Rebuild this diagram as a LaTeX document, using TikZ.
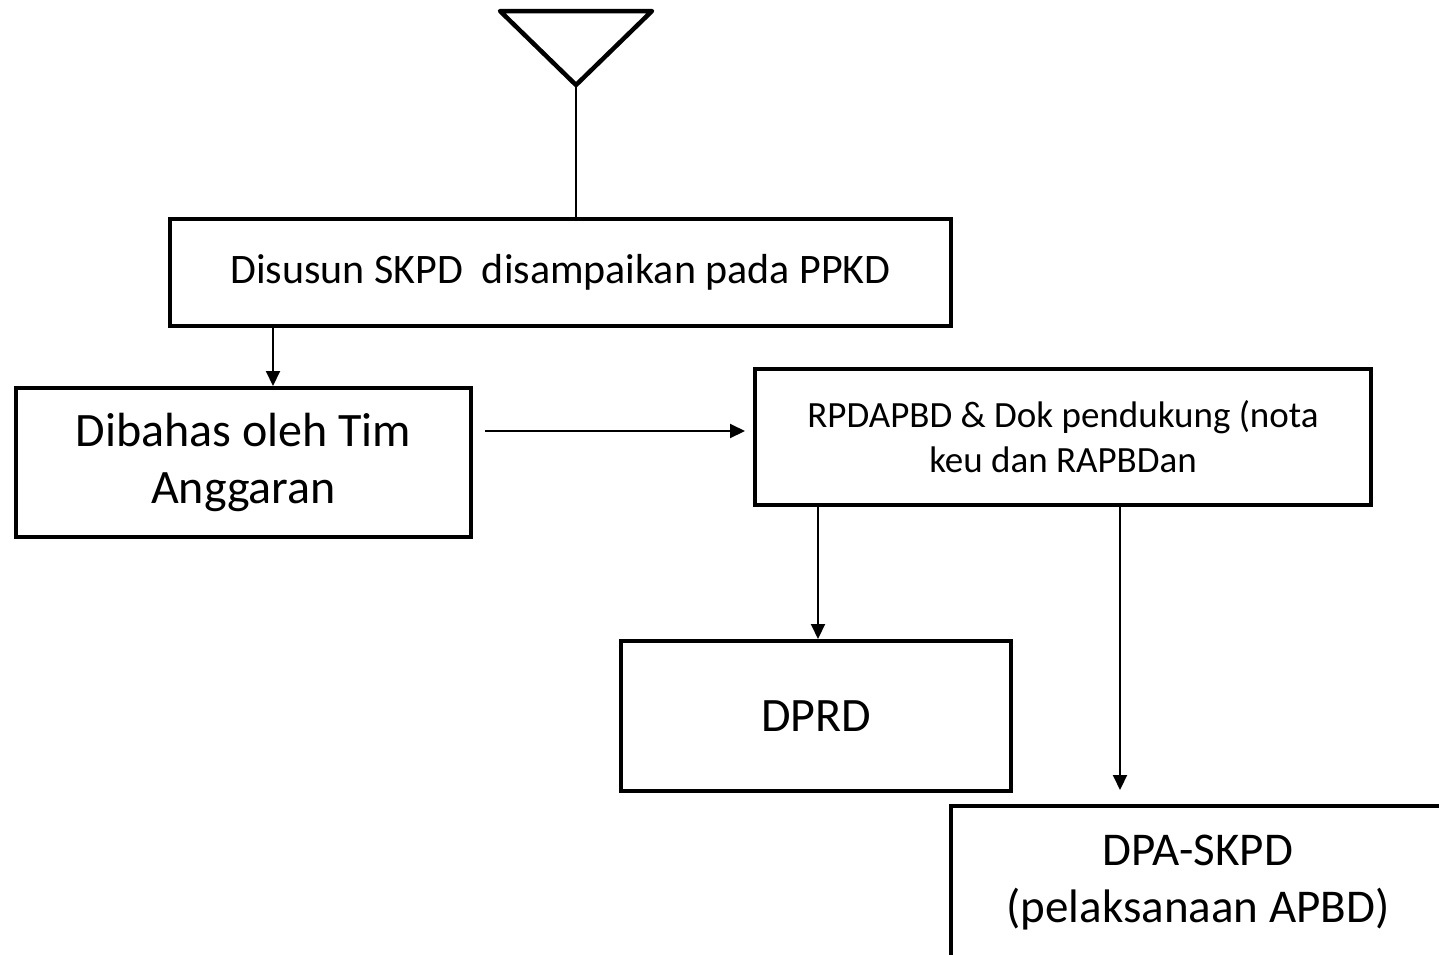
\documentclass[tikz,border=0pt]{standalone}
\usepackage{fontspec}
\setmainfont{Carlito}
\usetikzlibrary{arrows.meta}
\begin{document}
\begin{tikzpicture}[x=1pt,y=-1pt,
  box/.style={draw,line width=4pt,rectangle,inner sep=0pt,align=center},
  link/.style={line width=2pt},
  arr/.style={link,-{Triangle[length=15pt,width=14pt]}}]
\useasboundingbox (0,0) rectangle (1439,954);
\clip (0,0) rectangle (1439,954);

% start symbol
\coordinate (tl) at (500,11);
\coordinate (tr) at (652,11);
\coordinate (tip) at (576,85);
\draw[line width=4.5pt,line join=round,line cap=round] (tl) -- (tr) -- (tip) -- cycle;

% process boxes
\node[box,minimum width=781pt,minimum height=107pt,font=\fontsize{42}{50}\selectfont]
  (b1) at (560.5,272.5) {Disusun SKPD\ \ disampaikan pada PPKD};
\node[box,minimum width=455pt,minimum height=149pt,font=\fontsize{48}{57}\selectfont]
  (b2) at (243.5,462.5) {Dibahas oleh Tim\\Anggaran};
\node[box,minimum width=616pt,minimum height=136pt,font=\fontsize{37}{45}\selectfont]
  (b3) at (1063,437) {RPDAPBD \& Dok pendukung (nota\\keu dan RAPBDan};
\node[box,minimum width=390pt,minimum height=150pt,font=\fontsize{48}{57}\selectfont]
  (b4) at (816,716) {DPRD};
\node[box,minimum width=494pt,minimum height=154pt,font=\fontsize{47}{57}\selectfont]
  (b5) at (1198,883) {DPA-SKPD\\(pelaksanaan APBD)};

% connector guides
\coordinate (c1) at (273,0);
\coordinate (h) at (0,431);
\coordinate (c2) at (818,0);
\coordinate (c3) at (1120,0);

% connectors
\draw[link] (tip) -- (tip |- b1.north);
\draw[arr] (b1.south -| c1) -- (b2.north -| c1);
\draw[arr,shorten <=12pt,shorten >=8pt] (b2.east |- h) -- (b3.west |- h);
\draw[arr] (b3.south -| c2) -- (b4.north -| c2);
\draw[arr,shorten >=14pt] (b3.south -| c3) -- (b5.north -| c3);
\end{tikzpicture}
\end{document}
